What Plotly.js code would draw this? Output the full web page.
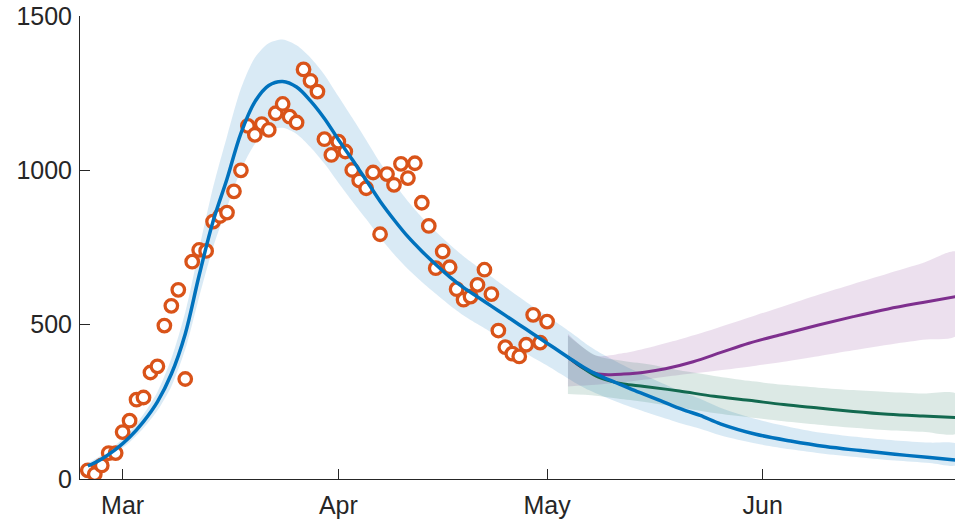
<!DOCTYPE html>
<html>
<head>
<meta charset="utf-8">
<script src="https://cdn.plot.ly/plotly-3.0.1.min.js"></script>
<style>
html,body{margin:0;padding:0;background:#fff;}
#chart{width:955px;height:529px;}
</style>
</head>
<body>
<div id="chart"></div>
<script>
// ---- Observed daily counts (orange circles), Feb 25 .. May 1, 2020 ----
const obsStart = '2020-02-25';
const obsValues = [28,16,44,84,84,152,189,257,264,345,365,497,561,613,324,704,742,739,834,852,863,932,1000,1144,1115,1150,1131,1185,1215,1174,1155,1327,1290,1255,1101,1050,1093,1061,1001,967,942,993,793,988,953,1021,975,1023,895,820,683,737,686,615,581,591,629,678,599,481,427,406,397,435,532,442,510];

// ---- Fitted model (blue) with confidence band ----
const fitDates = ['2020-02-25','2020-02-27','2020-02-29','2020-03-02','2020-03-04','2020-03-06','2020-03-08','2020-03-10','2020-03-12','2020-03-14','2020-03-16','2020-03-18','2020-03-20','2020-03-22','2020-03-24','2020-03-26','2020-03-28','2020-03-30','2020-04-01','2020-04-03','2020-04-05','2020-04-07','2020-04-09','2020-04-11','2020-04-13','2020-04-15','2020-04-17','2020-04-19','2020-04-21','2020-04-23','2020-04-25','2020-04-27','2020-04-29','2020-05-01','2020-05-03','2020-05-05','2020-05-07','2020-05-09','2020-05-11','2020-05-13','2020-05-15','2020-05-17','2020-05-19','2020-05-21','2020-05-23','2020-05-26','2020-05-31','2020-06-05','2020-06-10','2020-06-15','2020-06-20','2020-06-25','2020-06-29'];
const fitMid = [42,65,96,135,186,250,340,470,660,835,972,1120,1222,1275,1288,1270,1225,1168,1100,1035,968,900,840,785,738,695,655,620,590,560,530,500,470,440,410,380,352,330,311,292,274,256,238,221,206,178,145,123,105,92,80,70,61];
const fitLo  = [34,55,84,119,165,222,300,420,590,750,880,1000,1085,1130,1138,1118,1075,1022,960,900,842,782,728,680,638,600,563,530,502,475,448,420,393,368,340,312,288,268,250,233,218,203,189,175,163,141,115,96,81,70,60,52,46];
const fitHi  = [52,77,110,153,210,282,390,540,745,945,1110,1265,1365,1412,1424,1405,1365,1310,1240,1170,1098,1025,960,900,848,802,760,722,688,655,622,590,558,528,497,465,432,404,380,357,336,316,296,277,260,230,194,168,148,135,125,118,112];

// ---- Scenario A (purple) ----
const purpleDates = ['2020-05-04','2020-05-06','2020-05-08','2020-05-10','2020-05-12','2020-05-15','2020-05-18','2020-05-22','2020-05-26','2020-05-30','2020-06-04','2020-06-09','2020-06-14','2020-06-19','2020-06-24','2020-06-29'];
const purpleMid = [395,362,342,338,340,346,357,380,410,440,470,499,526,551,572,592];
const purpleBandDates = ['2020-05-04','2020-05-08','2020-05-12','2020-05-16','2020-05-20','2020-05-25','2020-05-30','2020-06-04','2020-06-09','2020-06-14','2020-06-19','2020-06-24','2020-06-29'];
const purpleLo = [300,305,314,325,337,350,364,380,398,417,435,451,467];
const purpleHi = [470,400,408,428,452,486,523,560,597,632,666,700,735];

// ---- Scenario B (green) ----
const greenDates = ['2020-05-04','2020-05-06','2020-05-08','2020-05-10','2020-05-12','2020-05-15','2020-05-20','2020-05-25','2020-05-30','2020-06-04','2020-06-09','2020-06-14','2020-06-19','2020-06-24','2020-06-29'];
const greenMid = [395,362,334,318,308,300,285,268,255,241,230,219,210,204,199];
const greenBandDates = purpleBandDates;
const greenLo = [275,270,258,246,232,214,200,187,176,166,158,153,149];
const greenHi = [465,400,382,370,352,334,318,305,296,288,282,277,274];

// ---- Axis ticks ----
const xTickVals = ['2020-03-01','2020-04-01','2020-05-01','2020-06-01'];
const xTickText = ['Mar','Apr','May','Jun'];
const yTickVals = [0,500,1000,1500];

// build helpers
function addDays(s, n){ const d = new Date(s+'T00:00:00Z'); d.setUTCDate(d.getUTCDate()+n); return d.toISOString().slice(0,10); }
const obsDates = obsValues.map((_,i)=>addDays(obsStart,i));
function band(dates, lo, hi, color){
  return {x: dates.concat(dates.slice().reverse()), y: hi.concat(lo.slice().reverse()),
    type:'scatter', mode:'lines', fill:'toself', fillcolor: color, line:{width:0, shape:'spline', smoothing:0.8}, hoverinfo:'skip', showlegend:false};
}

const traces = [
  band(fitDates, fitLo, fitHi, 'rgba(0,114,189,0.15)'),
  band(purpleBandDates, purpleLo, purpleHi, 'rgba(126,47,142,0.15)'),
  band(greenBandDates, greenLo, greenHi, 'rgba(18,105,79,0.15)'),
  {x: obsDates, y: obsValues, type:'scatter', mode:'markers', showlegend:false,
   marker:{symbol:'circle', size:12.5, color:'#ffffff', line:{color:'#D95319', width:3.3}}},
  {x: purpleDates, y: purpleMid, type:'scatter', mode:'lines', line:{color:'#7E2F8E', width:3, shape:'spline'}, showlegend:false},
  {x: greenDates, y: greenMid, type:'scatter', mode:'lines', line:{color:'#12694F', width:3, shape:'spline'}, showlegend:false},
  {x: fitDates, y: fitMid, type:'scatter', mode:'lines', line:{color:'#0072BD', width:3.5, shape:'spline'}, showlegend:false}
];

const fontFam = 'Liberation Sans, Arial, Helvetica, sans-serif';
const layout = {
  width:955, height:529,
  margin:{l:80, r:0, t:16, b:50},
  paper_bgcolor:'#ffffff', plot_bgcolor:'#ffffff',
  showlegend:false,
  xaxis:{type:'date', range:['2020-02-23 21:00','2020-06-28 15:00'],
    tickvals:xTickVals, ticktext:xTickText, ticks:'inside', ticklen:10, tickwidth:1, tickcolor:'#262626',
    showline:true, linecolor:'#262626', linewidth:1, showgrid:false, zeroline:false,
    tickfont:{family:fontFam, size:25, color:'#262626'}, ticklabelstandoff:4},
  yaxis:{range:[0,1500], tickvals:yTickVals, ticks:'inside', ticklen:10, tickwidth:1, tickcolor:'#262626',
    showline:true, linecolor:'#262626', linewidth:1, showgrid:false, zeroline:false,
    tickfont:{family:fontFam, size:25, color:'#262626'}, ticklabelstandoff:2}
};
Plotly.newPlot('chart', traces, layout, {displayModeBar:false, staticPlot:true});
</script>
</body>
</html>
